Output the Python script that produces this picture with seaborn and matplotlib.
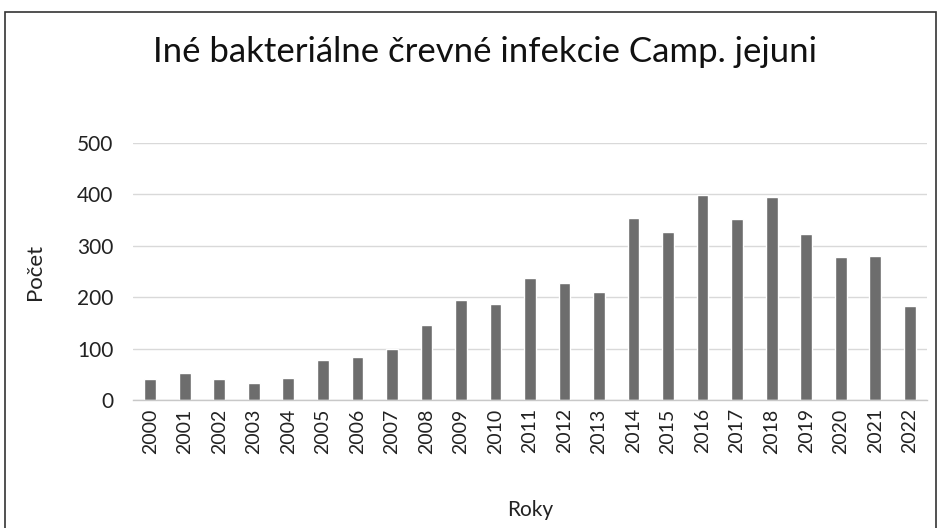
import matplotlib
matplotlib.use("Agg")
import matplotlib.pyplot as plt
import seaborn as sns
import pandas as pd
from matplotlib.patches import Rectangle

years = [str(y) for y in range(2000, 2023)]
counts = [41, 53, 41, 33, 43, 78, 84, 100, 145, 194, 186, 237, 227, 211,
          354, 327, 399, 352, 395, 323, 278, 280, 182]
yticks = [0, 100, 200, 300, 400, 500]

title = "Iné bakteriálne črevné infekcie Camp. jejuni"
xlabel = "Roky"
ylabel = "Počet"

sns.set_theme(style="white")
plt.rcParams['font.family'] = ['Lato', 'DejaVu Sans']

df = pd.DataFrame({"year": years, "count": counts})

fig = plt.figure(figsize=(9.38, 5.28), dpi=100)
ax = fig.add_axes([133/938, 1-400/528, (927-133)/938, (400-143)/528])

sns.barplot(data=df, x="year", y="count", color="#6d6d6d", saturation=1,
            width=0.34, ax=ax)

ax.set_ylim(0, 500)
ax.set_xlim(-0.5, len(years)-0.5)
ax.set_yticks(yticks)
ax.set_yticklabels([str(v) for v in yticks], fontsize=15, color="#222222")
ax.tick_params(axis='x', rotation=90, labelsize=14, colors="#222222", length=0, pad=6)
ax.tick_params(axis='y', length=0, pad=14)
ax.yaxis.grid(True, color="#d9d9d9", linewidth=1)
ax.set_axisbelow(True)
for s in ["top", "right", "left"]:
    ax.spines[s].set_visible(False)
ax.spines["bottom"].set_color("#c8c8c8")
ax.spines["bottom"].set_linewidth(1)

ax.set_xlabel("")
ax.set_ylabel("")
fig.text(35/938, 1-272/528, ylabel, rotation=90, ha="center", va="center", fontsize=16, color="#222222")
fig.text(530/938, 1-510/528, xlabel, ha="center", va="center", fontsize=15, color="#222222")
fig.text(485/938, 1-52/528, title, ha="center", va="center", fontsize=25, color="#111111")

fig.patches.append(Rectangle((5/938, -0.01), (936-5)/938, 1-12/528+0.01,
                             transform=fig.transFigure, fill=False,
                             edgecolor="#333333", linewidth=1.2))

fig.savefig("out.png", dpi=100)
